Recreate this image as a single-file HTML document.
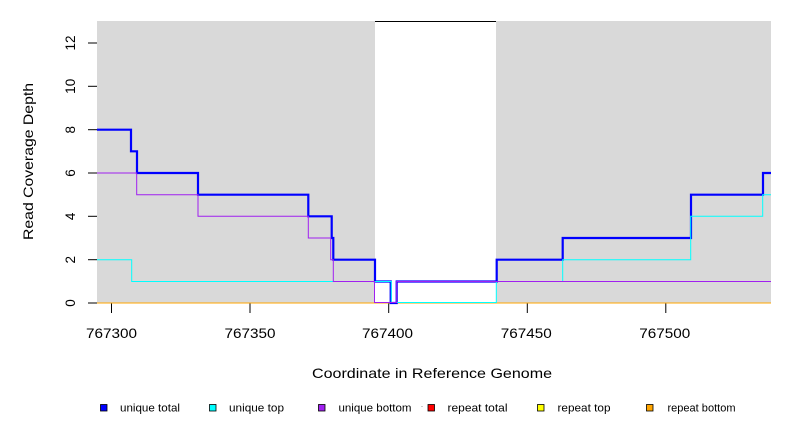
<!DOCTYPE html>
<html>
<head>
<meta charset="utf-8">
<style>
  html, body { margin: 0; padding: 0; background: #ffffff; }
  svg { display: block; }
  text { font-family: "Liberation Sans", "DejaVu Sans", sans-serif; fill: #000; }
</style>
</head>
<body>
<svg width="792" height="432" viewBox="0 0 792 432" xmlns="http://www.w3.org/2000/svg">
  <rect x="0" y="0" width="792" height="432" fill="#ffffff"/>

  <!-- plot background -->
  <rect x="97" y="21" width="278" height="282" fill="#d9d9d9"/>
  <rect x="496" y="21" width="275" height="282" fill="#d9d9d9"/>
  <!-- white region top border -->
  <line x1="375" y1="21.5" x2="496" y2="21.5" stroke="#000" stroke-width="1"/>

  <!-- y ticks -->
  <g stroke="#000" stroke-width="1">
    <line x1="88" y1="303" x2="97" y2="303"/>
    <line x1="88" y1="259.7" x2="97" y2="259.7"/>
    <line x1="88" y1="216.3" x2="97" y2="216.3"/>
    <line x1="88" y1="173" x2="97" y2="173"/>
    <line x1="88" y1="129.7" x2="97" y2="129.7"/>
    <line x1="88" y1="86.3" x2="97" y2="86.3"/>
    <line x1="88" y1="43" x2="97" y2="43"/>
  </g>
  <!-- y tick labels (rotated) -->
  <g font-size="13.5" text-anchor="middle">
    <text x="75" y="303" transform="rotate(-90 75 303)">0</text>
    <text x="75" y="259.7" transform="rotate(-90 75 259.7)">2</text>
    <text x="75" y="216.3" transform="rotate(-90 75 216.3)">4</text>
    <text x="75" y="173" transform="rotate(-90 75 173)">6</text>
    <text x="75" y="129.7" transform="rotate(-90 75 129.7)">8</text>
    <text x="75" y="86.3" transform="rotate(-90 75 86.3)">10</text>
    <text x="75" y="43" transform="rotate(-90 75 43)">12</text>
  </g>

  <!-- x ticks -->
  <g stroke="#000" stroke-width="1">
    <line x1="111.5" y1="303" x2="111.5" y2="313"/>
    <line x1="250" y1="303" x2="250" y2="313"/>
    <line x1="388.7" y1="303" x2="388.7" y2="313"/>
    <line x1="527.3" y1="303" x2="527.3" y2="313"/>
    <line x1="665.8" y1="303" x2="665.8" y2="313"/>
  </g>
  <g font-size="13.5" text-anchor="middle">
    <text x="111.5" y="338" textLength="51" lengthAdjust="spacingAndGlyphs">767300</text>
    <text x="250" y="338" textLength="51" lengthAdjust="spacingAndGlyphs">767350</text>
    <text x="387.5" y="338" textLength="51" lengthAdjust="spacingAndGlyphs">767400</text>
    <text x="526.3" y="338" textLength="51" lengthAdjust="spacingAndGlyphs">767450</text>
    <text x="664.8" y="338" textLength="51" lengthAdjust="spacingAndGlyphs">767500</text>
  </g>

  <!-- axis titles -->
  <text x="432" y="378" font-size="14" text-anchor="middle" textLength="240" lengthAdjust="spacingAndGlyphs">Coordinate in Reference Genome</text>
  <text x="33" y="161.5" font-size="14" text-anchor="middle" transform="rotate(-90 33 161.5)" textLength="157" lengthAdjust="spacingAndGlyphs">Read Coverage Depth</text>

  <!-- series -->
  <!-- repeat bottom (orange) at zero -->
  <path d="M97,303 H771" fill="none" stroke="#ffa500" stroke-width="1"/>
  <!-- unique total (blue) -->
  <path d="M97,129.7 H131 V151.3 H137 V173 H198 V194.7 H308.3 V216.3 H331.7 V238 H333.3 V259.7 H375 V281.5 H390.7 V303 H396.7 V281.5 H496.7 V259.7 H562.7 V238 H691 V194.7 H763 V173 H771"
        fill="none" stroke="#0000ff" stroke-width="2.2" stroke-linejoin="miter"/>
  <!-- unique top (cyan) -->
  <path d="M97,259.7 H131.7 V281.5 H391.3 V302.5 H496.3 V281.5 H562.7 V259.7 H690.7 V216.3 H762.7 V194.7 H771"
        fill="none" stroke="#00ffff" stroke-width="1"/>
  <!-- unique bottom (purple) -->
  <path d="M97,173 H136.7 V194.7 H198 V216.3 H308.3 V238 H330.7 V259.7 H333.3 V281.5 H374.5 V302.5 H396.7 V281.5 H771"
        fill="none" stroke="#a020f0" stroke-width="1"/>

  <!-- legend -->
  <g stroke="#000" stroke-width="0.8">
    <rect x="100.5" y="404.5" width="6.5" height="6.5" fill="#0000ff"/>
    <rect x="209.5" y="404.5" width="6.5" height="6.5" fill="#00ffff"/>
    <rect x="318.5" y="404.5" width="6.5" height="6.5" fill="#a020f0"/>
    <rect x="428" y="404.5" width="6.5" height="6.5" fill="#ff0000"/>
    <rect x="537.5" y="404.5" width="6.5" height="6.5" fill="#ffff00"/>
    <rect x="646.5" y="404.5" width="6.5" height="6.5" fill="#ffa500"/>
  </g>
  <rect x="421.5" y="406" width="1" height="1" fill="#999"/>
  <g font-size="11">
    <text x="120" y="411.5" textLength="60" lengthAdjust="spacingAndGlyphs">unique total</text>
    <text x="229" y="411.5" textLength="55" lengthAdjust="spacingAndGlyphs">unique top</text>
    <text x="338.5" y="411.5" textLength="73" lengthAdjust="spacingAndGlyphs">unique bottom</text>
    <text x="447.5" y="411.5" textLength="60" lengthAdjust="spacingAndGlyphs">repeat total</text>
    <text x="557.5" y="411.5" textLength="53" lengthAdjust="spacingAndGlyphs">repeat top</text>
    <text x="667.5" y="411.5" textLength="68" lengthAdjust="spacingAndGlyphs">repeat bottom</text>
  </g>
</svg>
</body>
</html>
